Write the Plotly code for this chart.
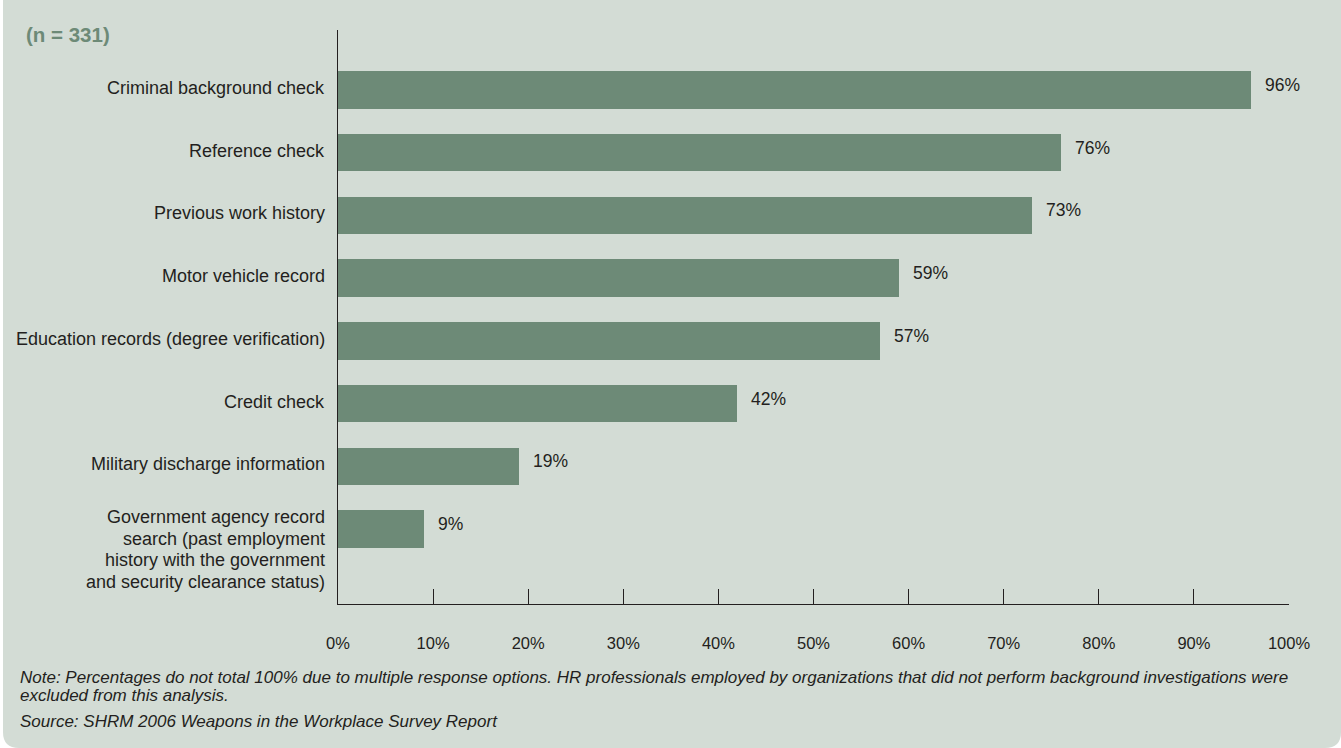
import plotly.graph_objects as go

# Survey results: share of organisations using each type of background check
categories = [
    "Criminal background check",
    "Reference check",
    "Previous work history",
    "Motor vehicle record",
    "Education records (degree verification)",
    "Credit check",
    "Military discharge information",
    "Government agency record<br>search (past employment<br>history with the government<br>and security clearance status)",
]
values = [96, 76, 73, 59, 57, 42, 19, 9]
tick_values = list(range(0, 101, 10))
tick_labels = [f"{v}%" for v in tick_values]

sample_note = "(n = 331)"
footnote_lines = [
    "Note: Percentages do not total 100% due to multiple response options. HR professionals employed by "
    "organizations that did not perform background investigations were",
    "excluded from this analysis.",
]
source_note = "Source: SHRM 2006 Weapons in the Workplace Survey Report"

W, H = 1341, 748
ML, MR, MT, MB = 338, 52, 30, 144
PANEL = "#d3dcd5"
BAR = "#6d8a77"
INK = "#231f20"
FONT = "Liberation Sans, Arial, sans-serif"

positions = list(range(len(categories)))


def px_x(x):
    return (x - ML) / (W - ML - MR)


def px_y(y):
    return (H - MB - y) / (H - MT - MB)


fig = go.Figure()
fig.add_trace(go.Bar(
    x=values,
    y=positions,
    orientation="h",
    width=0.6,
    marker=dict(color=BAR, line=dict(width=0)),
    hoverinfo="skip",
))

# Rounded background panel
r = 16
x0, x1, y0, y1 = 3, W, 0, H
panel_path = (
    f"M {px_x(x0)},{px_y(y0)} L {px_x(x1)},{px_y(y0)} "
    f"L {px_x(x1)},{px_y(y1 - r)} Q {px_x(x1)},{px_y(y1)} {px_x(x1 - r)},{px_y(y1)} "
    f"L {px_x(x0 + r)},{px_y(y1)} Q {px_x(x0)},{px_y(y1)} {px_x(x0)},{px_y(y1 - r)} Z"
)
fig.add_shape(type="path", path=panel_path, xref="paper", yref="paper",
              fillcolor=PANEL, line=dict(width=0), layer="below")

LABEL_SIZE = 18
LINE_STEP = 21.5
annotations = []
for i, (cat, v) in enumerate(zip(categories, values)):
    lines = cat.split("<br>")
    if len(lines) == 1:
        shifts = [2]
    else:
        # first line sits near the top edge of the bar, the rest run downward
        shifts = [12 - k * LINE_STEP for k in range(len(lines))]
    for line, dy in zip(lines, shifts):
        annotations.append(dict(
            x=0, xref="paper", y=i, yref="y",
            text=line, showarrow=False, xanchor="right", yanchor="middle",
            xshift=-11, yshift=dy, align="right",
            font=dict(family=FONT, size=LABEL_SIZE, color=INK),
        ))
    annotations.append(dict(
        x=v, xref="x", y=i, yref="y", text=f"{v}%", showarrow=False,
        xanchor="left", yanchor="middle", xshift=12, yshift=5,
        font=dict(family=FONT, size=17.5, color=INK),
    ))

annotations.append(dict(
    x=px_x(24), y=px_y(34), xref="paper", yref="paper", text=f"<b>{sample_note}</b>",
    showarrow=False, xanchor="left", yanchor="middle",
    font=dict(family=FONT, size=20.5, color=BAR),
))
for k, line in enumerate(footnote_lines):
    annotations.append(dict(
        x=px_x(18), y=px_y(677 + k * 18), xref="paper", yref="paper", text=f"<i>{line}</i>",
        showarrow=False, xanchor="left", yanchor="middle", align="left",
        font=dict(family=FONT, size=17, color=INK),
    ))
annotations.append(dict(
    x=px_x(18), y=px_y(721), xref="paper", yref="paper", text=f"<i>{source_note}</i>",
    showarrow=False, xanchor="left", yanchor="middle", align="left",
    font=dict(family=FONT, size=17, color=INK),
))

fig.update_layout(
    width=W, height=H,
    margin=dict(l=ML, r=MR, t=MT, b=MB, pad=0),
    paper_bgcolor="white",
    plot_bgcolor="rgba(0,0,0,0)",
    showlegend=False,
    bargap=0,
    annotations=annotations,
    xaxis=dict(
        range=[0, 100], tickvals=tick_values, ticktext=tick_labels,
        showgrid=False, zeroline=False, showline=True, linecolor=INK, linewidth=1.2,
        ticks="inside", ticklen=15, tickwidth=1.2, tickcolor=INK,
        ticklabelstandoff=24,
        tickfont=dict(family=FONT, size=16.5, color=INK),
    ),
    yaxis=dict(
        range=[8.193, -0.955], showticklabels=False, ticks="",
        showgrid=False, zeroline=False, showline=True, linecolor=INK, linewidth=1.2,
    ),
)

fig.write_html("out.html")
